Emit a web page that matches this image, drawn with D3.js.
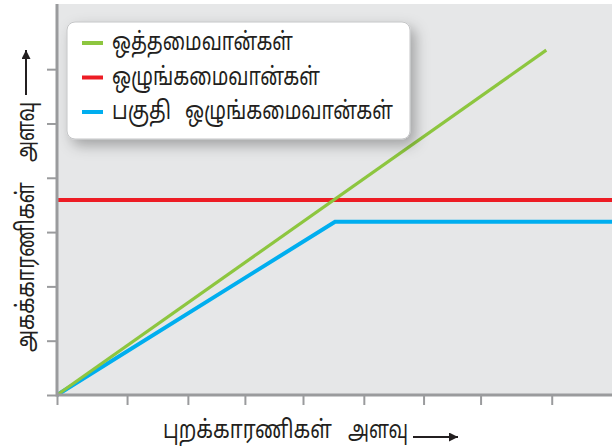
<!DOCTYPE html>
<html><head><meta charset="utf-8">
<script src="https://cdn.jsdelivr.net/npm/d3@7"></script>
<style>
html,body{margin:0;padding:0;background:#fff;}
text{font-family:"Noto Sans Tamil","Latha","Noto Sans","DejaVu Sans",sans-serif;fill:#231f20;}
</style></head><body>
<svg id="chart" width="612" height="446"></svg>
<script>
// ---- data ----
const seriesNames = [["ஒத்தமைவான்கள்"], ["ஒழுங்கமைவான்கள்"], ["பகுதி", "ஒழுங்கமைவான்கள்"]];
const seriesColors = ["#8dc63f", "#ed1c24", "#00aeef"];
const greenX = [0, 9.01];
const greenY = [0, 6.35];
const redX = [0, 10.22];
const redY = [3.59, 3.59];
const blueX = [0, 5.12, 10.22];
const blueY = [0, 3.19, 3.19];
const xTicks = [0, 1.29, 2.41, 3.46, 4.53, 5.65, 6.75, 7.80, 9.11];
const yTicks = [0, 1, 2, 3, 4, 5, 6];
const xLabel = ["புறக்காரணிகள்", "அளவு"];
const yLabel = ["அகக்காரணிகள்", "அளவு"];

const svg = d3.select("#chart");
const x = d3.scaleLinear().domain([0, 10.22]).range([57, 612]);
const y = d3.scaleLinear().domain([0, 7.2]).range([395, 4]);

const defs = svg.append("defs");
const f = defs.append("filter").attr("id","sh").attr("x","-20%").attr("y","-20%").attr("width","150%").attr("height","160%");
f.append("feDropShadow").attr("dx",5).attr("dy",6).attr("stdDeviation",7).attr("flood-color","#000").attr("flood-opacity",0.3);
defs.append("marker").attr("id","arr").attr("viewBox","0 0 10 10").attr("refX",10).attr("refY",5)
  .attr("markerWidth",18).attr("markerHeight",9).attr("markerUnits","userSpaceOnUse").attr("orient","auto")
  .append("path").attr("d","M0,0 L10,5 L0,10 Z").attr("fill","#231f20");

// fit a text to a given width by horizontal scaling
function fitText(parent, str, px, py, width, rot, size) {
  const g = parent.append("g").attr("transform", `translate(${px},${py})` + (rot ? ` rotate(${rot})` : ""));
  const t = g.append("text").attr("font-size", size).text(str);
  const w = t.node().getComputedTextLength();
  t.attr("transform", `scale(${width / w},1)`);
  return t;
}

// plot background
svg.append("rect").attr("x", x(0)).attr("y", y(7.2)).attr("width", x(10.22)-x(0)).attr("height", y(0)-y(7.2)).attr("fill","#e6e7e8");

// lines
const line = d3.line().x(d=>x(d[0])).y(d=>y(d[1]));
svg.append("path").datum(d3.zip(blueX, blueY)).attr("d", line).attr("fill","none").attr("stroke",seriesColors[2]).attr("stroke-width",4);
svg.append("path").datum(d3.zip(redX, redY)).attr("d", line).attr("fill","none").attr("stroke",seriesColors[1]).attr("stroke-width",4);
svg.append("path").datum(d3.zip(greenX, greenY)).attr("d", line).attr("fill","none").attr("stroke",seriesColors[0]).attr("stroke-width",3.2);

// axes
const xAxis = svg.append("g").attr("transform",`translate(0,${y(0)})`)
  .call(d3.axisBottom(x).tickValues(xTicks).tickSize(10).tickFormat(""));
const yAxis = svg.append("g").attr("transform",`translate(${x(0)},0)`)
  .call(d3.axisLeft(y).tickValues(yTicks).tickSize(10).tickFormat(""));
[xAxis, yAxis].forEach(g=>{
  g.selectAll("line").attr("stroke","#9a9b9d").attr("stroke-width",2);
  g.select(".domain").remove();
});
svg.append("line").attr("x1",x(0)).attr("x2",x(10.22)).attr("y1",y(0)).attr("y2",y(0)).attr("stroke","#9a9b9d").attr("stroke-width",3);
svg.append("line").attr("x1",x(0)).attr("x2",x(0)).attr("y1",y(7.2)).attr("y2",y(0)+1.5).attr("stroke","#9a9b9d").attr("stroke-width",3);

// legend
const lg = svg.append("g");
lg.append("rect").attr("x",67).attr("y",22).attr("width",343).attr("height",117).attr("rx",8)
  .attr("fill","#fff").attr("stroke","#c4c5c7").attr("stroke-width",1).attr("filter","url(#sh)");
const legendWords = [[[112,181]], [[112,208]], [[112,59],[185,208]]];
seriesNames.forEach((words,i)=>{
  const yy = 43 + i*34.5;
  lg.append("line").attr("x1",82).attr("x2",103).attr("y1",yy).attr("y2",yy).attr("stroke",seriesColors[i]).attr("stroke-width",4);
  words.forEach((w,j)=>{
    fitText(lg, w, legendWords[i][j][0], yy+7, legendWords[i][j][1], 0, 25);
  });
});

// axis labels
fitText(svg, xLabel[0], 163, 438, 169, 0, 25);
fitText(svg, xLabel[1], 348, 438, 60, 0, 25);
svg.append("line").attr("x1",413).attr("x2",458).attr("y1",437).attr("y2",437).attr("stroke","#231f20").attr("stroke-width",2).attr("marker-end","url(#arr)");
fitText(svg, yLabel[0], 34, 352, 170, -90, 25);
fitText(svg, yLabel[1], 34, 162, 60, -90, 25);
svg.append("line").attr("x1",26).attr("x2",26).attr("y1",95).attr("y2",50).attr("stroke","#231f20").attr("stroke-width",2).attr("marker-end","url(#arr)");
</script>
</body></html>
